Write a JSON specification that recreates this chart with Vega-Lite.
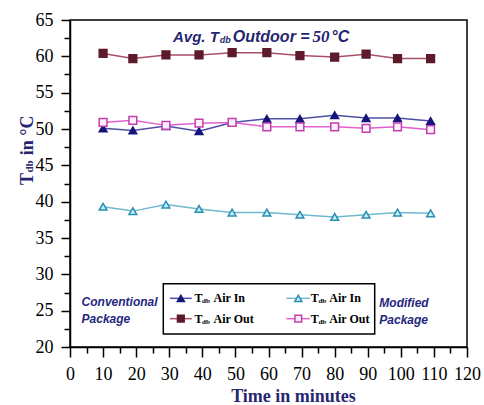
{
  "$schema": "https://vega.github.io/schema/vega-lite/v6.json",
  "width": 397,
  "height": 327,
  "autosize": {"type": "none"},
  "padding": {"left": 70, "top": 20, "right": 17, "bottom": 58},
  "background": "white",
  "config": {
    "font": "Liberation Serif",
    "view": {"stroke": "black", "strokeWidth": 1.5},
    "axis": {"grid": false, "domainColor": "black", "domainWidth": 1.5, "tickColor": "black", "tickWidth": 1.5, "labelFont": "Liberation Serif", "labelFontSize": 18, "labelColor": "black", "labelOverlap": false, "labelFlush": false, "labelBound": false},
    "style": {"guide-label": {"font": "Liberation Serif", "fontSize": 18, "fill": "black"}}
  },
  "resolve": {"axis": {"x": "independent", "y": "independent"}},
  "datasets": {
    "temps": [
      {"time": 10, "temp": 50.1, "series": "Conv In"},
      {"time": 19, "temp": 49.8, "series": "Conv In"},
      {"time": 29, "temp": 50.4, "series": "Conv In"},
      {"time": 39, "temp": 49.7, "series": "Conv In"},
      {"time": 49, "temp": 50.9, "series": "Conv In"},
      {"time": 59.5, "temp": 51.4, "series": "Conv In"},
      {"time": 69.5, "temp": 51.4, "series": "Conv In"},
      {"time": 80, "temp": 51.9, "series": "Conv In"},
      {"time": 89.5, "temp": 51.5, "series": "Conv In"},
      {"time": 99, "temp": 51.5, "series": "Conv In"},
      {"time": 109, "temp": 51.1, "series": "Conv In"},
      {"time": 10, "temp": 60.4, "series": "Conv Out"},
      {"time": 19, "temp": 59.7, "series": "Conv Out"},
      {"time": 29, "temp": 60.2, "series": "Conv Out"},
      {"time": 39, "temp": 60.2, "series": "Conv Out"},
      {"time": 49, "temp": 60.5, "series": "Conv Out"},
      {"time": 59.5, "temp": 60.5, "series": "Conv Out"},
      {"time": 69.5, "temp": 60.1, "series": "Conv Out"},
      {"time": 80, "temp": 59.9, "series": "Conv Out"},
      {"time": 89.5, "temp": 60.3, "series": "Conv Out"},
      {"time": 99, "temp": 59.7, "series": "Conv Out"},
      {"time": 109, "temp": 59.7, "series": "Conv Out"},
      {"time": 10, "temp": 39.3, "series": "Mod In"},
      {"time": 19, "temp": 38.7, "series": "Mod In"},
      {"time": 29, "temp": 39.6, "series": "Mod In"},
      {"time": 39, "temp": 39.0, "series": "Mod In"},
      {"time": 49, "temp": 38.5, "series": "Mod In"},
      {"time": 59.5, "temp": 38.5, "series": "Mod In"},
      {"time": 69.5, "temp": 38.2, "series": "Mod In"},
      {"time": 80, "temp": 37.9, "series": "Mod In"},
      {"time": 89.5, "temp": 38.2, "series": "Mod In"},
      {"time": 99, "temp": 38.5, "series": "Mod In"},
      {"time": 109, "temp": 38.4, "series": "Mod In"},
      {"time": 10, "temp": 50.9, "series": "Mod Out"},
      {"time": 19, "temp": 51.2, "series": "Mod Out"},
      {"time": 29, "temp": 50.5, "series": "Mod Out"},
      {"time": 39, "temp": 50.8, "series": "Mod Out"},
      {"time": 49, "temp": 50.9, "series": "Mod Out"},
      {"time": 59.5, "temp": 50.3, "series": "Mod Out"},
      {"time": 69.5, "temp": 50.3, "series": "Mod Out"},
      {"time": 80, "temp": 50.3, "series": "Mod Out"},
      {"time": 89.5, "temp": 50.1, "series": "Mod Out"},
      {"time": 99, "temp": 50.3, "series": "Mod Out"},
      {"time": 109, "temp": 49.9, "series": "Mod Out"}
    ]
  },
  "data": {"values": [{}]},
  "layer": [
    {
      "data": {"name": "temps"},
      "mark": {"type": "line", "strokeWidth": 1.5},
      "encoding": {
        "x": {"field": "time", "type": "quantitative", "scale": {"domain": [0, 120], "nice": false, "zero": false},
          "axis": {"orient": "bottom", "values": [0,10,20,30,40,50,60,70,80,90,100,110,120],
            "labelFont": "Liberation Serif", "labelFontSize": 18, "labelColor": "black",
            "labelOverlap": false, "labelFlush": false, "labelBound": false,
            "tickSize": 10, "labelPadding": 8,
            "title": "Time in minutes", "titleFont": "Liberation Serif", "titleFontSize": 18, "titleFontWeight": "bold", "titleColor": "#262670",
            "titleX": 223, "titleY": 54, "titleBaseline": "alphabetic", "titleAlign": "center", "titleAnchor": "start"}},
        "y": {"field": "temp", "type": "quantitative", "scale": {"domain": [20, 65], "nice": false, "zero": false},
          "axis": {"orient": "left", "values": [20,25,30,35,40,45,50,55,60,65],
            "labelFont": "Liberation Serif", "labelFontSize": 18, "labelColor": "black",
            "labelOverlap": false, "labelFlush": false, "labelBound": false,
            "tickSize": 9, "labelPadding": 8, "title": null}},
        "color": {"field": "series", "type": "nominal", "legend": null,
          "scale": {"domain": ["Conv In", "Conv Out", "Mod In", "Mod Out"], "range": ["#4f4fa6", "#a8506a", "#70b8d0", "#e060d0"]}}
      }
    },
    {
      "data": {"name": "temps"},
      "mark": {"type": "point", "size": 60, "strokeWidth": 1.5, "filled": true, "opacity": 1},
      "encoding": {
        "x": {"field": "time", "type": "quantitative",
          "axis": {"orient": "bottom", "values": [5,15,25,35,45,55,65,75,85,95,105,115], "labels": false, "domain": false, "tickSize": 6, "tickColor": "black", "tickWidth": 1.5, "title": null}},
        "y": {"field": "temp", "type": "quantitative",
          "axis": {"orient": "left", "values": [22.5,27.5,32.5,37.5,42.5,47.5,52.5,57.5,62.5], "labels": false, "domain": false, "tickSize": 6, "tickColor": "black", "tickWidth": 1.5, "title": null}},
        "shape": {"field": "series", "type": "nominal", "legend": null,
          "scale": {"domain": ["Conv In", "Conv Out", "Mod In", "Mod Out"], "range": ["triangle-up", "square", "triangle-up", "square"]}},
        "fill": {"field": "series", "type": "nominal", "legend": null,
          "scale": {"domain": ["Conv In", "Conv Out", "Mod In", "Mod Out"], "range": ["#16167a", "#5c1a2a", "#c4eef8", "#fdf0fb"]}},
        "stroke": {"field": "series", "type": "nominal", "legend": null,
          "scale": {"domain": ["Conv In", "Conv Out", "Mod In", "Mod Out"], "range": ["#16167a", "#5c1a2a", "#2a8fb0", "#c040b0"]}}
      }
    },
    {"mark": {"type": "text", "text": "Avg. T", "align": "right", "baseline": "middle", "font": "Liberation Sans", "fontSize": 15, "fontWeight": "bold", "fontStyle": "italic", "color": "#262670"},
     "encoding": {"x": {"datum": 45, "axis": null}, "y": {"datum": 62.7, "axis": null}}},
    {"mark": {"type": "text", "text": "db", "align": "left", "baseline": "middle", "font": "Liberation Sans", "fontSize": 9, "fontWeight": "bold", "fontStyle": "italic", "color": "#262670"},
     "encoding": {"x": {"datum": 45.3, "axis": null}, "y": {"datum": 62.3, "axis": null}}},
    {"mark": {"type": "text", "text": "Outdoor =", "align": "left", "baseline": "middle", "font": "Liberation Sans", "fontSize": 16, "fontWeight": "bold", "fontStyle": "italic", "color": "#262670"},
     "encoding": {"x": {"datum": 49.2, "axis": null}, "y": {"datum": 62.7, "axis": null}}},
    {"mark": {"type": "text", "text": "50", "align": "left", "baseline": "middle", "font": "Liberation Serif", "fontSize": 17, "fontWeight": "bold", "fontStyle": "italic", "color": "#262670"},
     "encoding": {"x": {"datum": 73.3, "axis": null}, "y": {"datum": 62.7, "axis": null}}},
    {"mark": {"type": "text", "text": "°C", "align": "left", "baseline": "middle", "font": "Liberation Sans", "fontSize": 16, "fontWeight": "bold", "fontStyle": "italic", "color": "#262670"},
     "encoding": {"x": {"datum": 79.0, "axis": null}, "y": {"datum": 62.7, "axis": null}}},
    {"mark": {"type": "text", "text": "T", "align": "left", "baseline": "middle", "angle": 270, "font": "Liberation Serif", "fontSize": 18, "fontWeight": "bold", "color": "#262670"},
     "encoding": {"x": {"datum": -12.8, "axis": null}, "y": {"datum": 42.3, "axis": null}}},
    {"mark": {"type": "text", "text": "db", "align": "left", "baseline": "middle", "angle": 270, "font": "Liberation Serif", "fontSize": 11, "fontWeight": "bold", "color": "#262670"},
     "encoding": {"x": {"datum": -12.0, "axis": null}, "y": {"datum": 44.0, "axis": null}}},
    {"mark": {"type": "text", "text": "in °C", "align": "left", "baseline": "middle", "angle": 270, "font": "Liberation Serif", "fontSize": 18, "fontWeight": "bold", "color": "#262670"},
     "encoding": {"x": {"datum": -12.8, "axis": null}, "y": {"datum": 46.4, "axis": null}}},
    {"mark": {"type": "text", "text": "Conventional", "align": "left", "baseline": "middle", "font": "Liberation Sans", "fontSize": 12, "fontWeight": "bold", "fontStyle": "italic", "color": "#262680"},
     "encoding": {"x": {"datum": 3.5, "axis": null}, "y": {"datum": 26.2, "axis": null}}},
    {"mark": {"type": "text", "text": "Package", "align": "left", "baseline": "middle", "font": "Liberation Sans", "fontSize": 12, "fontWeight": "bold", "fontStyle": "italic", "color": "#262680"},
     "encoding": {"x": {"datum": 3.5, "axis": null}, "y": {"datum": 23.9, "axis": null}}},
    {"mark": {"type": "text", "text": "Modified", "align": "left", "baseline": "middle", "font": "Liberation Sans", "fontSize": 12, "fontWeight": "bold", "fontStyle": "italic", "color": "#262680"},
     "encoding": {"x": {"datum": 93.5, "axis": null}, "y": {"datum": 26.0, "axis": null}}},
    {"mark": {"type": "text", "text": "Package", "align": "left", "baseline": "middle", "font": "Liberation Sans", "fontSize": 12, "fontWeight": "bold", "fontStyle": "italic", "color": "#262680"},
     "encoding": {"x": {"datum": 93.5, "axis": null}, "y": {"datum": 23.7, "axis": null}}},
    {"mark": {"type": "rect", "fill": "white", "stroke": "black", "strokeWidth": 1.5},
     "encoding": {"x": {"datum": 28.2, "axis": null}, "x2": {"datum": 92.1}, "y": {"datum": 21.8, "axis": null}, "y2": {"datum": 28.7}}},
    {"mark": {"type": "rule", "color": "#4f4fa6", "strokeWidth": 1.5},
     "encoding": {"x": {"datum": 30.2, "axis": null}, "x2": {"datum": 36.8}, "y": {"datum": 26.7, "axis": null}}},
    {"mark": {"type": "rule", "color": "#a8506a", "strokeWidth": 1.5},
     "encoding": {"x": {"datum": 30.2, "axis": null}, "x2": {"datum": 36.8}, "y": {"datum": 23.9, "axis": null}}},
    {"mark": {"type": "rule", "color": "#70b8d0", "strokeWidth": 1.5},
     "encoding": {"x": {"datum": 65.4, "axis": null}, "x2": {"datum": 72.5}, "y": {"datum": 26.7, "axis": null}}},
    {"mark": {"type": "rule", "color": "#e060d0", "strokeWidth": 1.5},
     "encoding": {"x": {"datum": 65.4, "axis": null}, "x2": {"datum": 72.5}, "y": {"datum": 23.9, "axis": null}}},
    {"mark": {"type": "point", "shape": "triangle-up", "size": 50, "filled": true, "opacity": 1, "fill": "#16167a", "stroke": "#16167a", "strokeWidth": 1.5},
     "encoding": {"x": {"datum": 33.5, "axis": null}, "y": {"datum": 26.7, "axis": null}}},
    {"mark": {"type": "point", "shape": "square", "size": 45, "filled": true, "opacity": 1, "fill": "#5c1a2a", "stroke": "#5c1a2a", "strokeWidth": 1.5},
     "encoding": {"x": {"datum": 33.5, "axis": null}, "y": {"datum": 23.9, "axis": null}}},
    {"mark": {"type": "point", "shape": "triangle-up", "size": 50, "filled": true, "opacity": 1, "fill": "#c4eef8", "stroke": "#2a8fb0", "strokeWidth": 1.5},
     "encoding": {"x": {"datum": 69.0, "axis": null}, "y": {"datum": 26.7, "axis": null}}},
    {"mark": {"type": "point", "shape": "square", "size": 45, "filled": true, "opacity": 1, "fill": "#fdf0fb", "stroke": "#c040b0", "strokeWidth": 1.5},
     "encoding": {"x": {"datum": 69.0, "axis": null}, "y": {"datum": 23.9, "axis": null}}},
    {"mark": {"type": "text", "text": "T", "align": "left", "baseline": "middle", "font": "Liberation Serif", "fontSize": 12, "fontWeight": "bold", "color": "black"},
     "encoding": {"x": {"datum": 37.6, "axis": null}, "y": {"datum": 26.7, "axis": null}}},
    {"mark": {"type": "text", "text": "db", "align": "left", "baseline": "middle", "font": "Liberation Serif", "fontSize": 7, "fontWeight": "bold", "color": "black"},
     "encoding": {"x": {"datum": 39.9, "axis": null}, "y": {"datum": 26.3, "axis": null}}},
    {"mark": {"type": "text", "text": "Air In", "align": "left", "baseline": "middle", "font": "Liberation Serif", "fontSize": 12, "fontWeight": "bold", "color": "black"},
     "encoding": {"x": {"datum": 43.4, "axis": null}, "y": {"datum": 26.7, "axis": null}}},
    {"mark": {"type": "text", "text": "T", "align": "left", "baseline": "middle", "font": "Liberation Serif", "fontSize": 12, "fontWeight": "bold", "color": "black"},
     "encoding": {"x": {"datum": 37.6, "axis": null}, "y": {"datum": 23.9, "axis": null}}},
    {"mark": {"type": "text", "text": "db", "align": "left", "baseline": "middle", "font": "Liberation Serif", "fontSize": 7, "fontWeight": "bold", "color": "black"},
     "encoding": {"x": {"datum": 39.9, "axis": null}, "y": {"datum": 23.5, "axis": null}}},
    {"mark": {"type": "text", "text": "Air Out", "align": "left", "baseline": "middle", "font": "Liberation Serif", "fontSize": 12, "fontWeight": "bold", "color": "black"},
     "encoding": {"x": {"datum": 43.4, "axis": null}, "y": {"datum": 23.9, "axis": null}}},
    {"mark": {"type": "text", "text": "T", "align": "left", "baseline": "middle", "font": "Liberation Serif", "fontSize": 12, "fontWeight": "bold", "color": "black"},
     "encoding": {"x": {"datum": 72.8, "axis": null}, "y": {"datum": 26.7, "axis": null}}},
    {"mark": {"type": "text", "text": "db", "align": "left", "baseline": "middle", "font": "Liberation Serif", "fontSize": 7, "fontWeight": "bold", "color": "black"},
     "encoding": {"x": {"datum": 75.1, "axis": null}, "y": {"datum": 26.3, "axis": null}}},
    {"mark": {"type": "text", "text": "Air In", "align": "left", "baseline": "middle", "font": "Liberation Serif", "fontSize": 12, "fontWeight": "bold", "color": "black"},
     "encoding": {"x": {"datum": 78.4, "axis": null}, "y": {"datum": 26.7, "axis": null}}},
    {"mark": {"type": "text", "text": "T", "align": "left", "baseline": "middle", "font": "Liberation Serif", "fontSize": 12, "fontWeight": "bold", "color": "black"},
     "encoding": {"x": {"datum": 72.8, "axis": null}, "y": {"datum": 23.9, "axis": null}}},
    {"mark": {"type": "text", "text": "db", "align": "left", "baseline": "middle", "font": "Liberation Serif", "fontSize": 7, "fontWeight": "bold", "color": "black"},
     "encoding": {"x": {"datum": 75.1, "axis": null}, "y": {"datum": 23.5, "axis": null}}},
    {"mark": {"type": "text", "text": "Air Out", "align": "left", "baseline": "middle", "font": "Liberation Serif", "fontSize": 12, "fontWeight": "bold", "color": "black"},
     "encoding": {"x": {"datum": 78.4, "axis": null}, "y": {"datum": 23.9, "axis": null}}}
  ]
}
